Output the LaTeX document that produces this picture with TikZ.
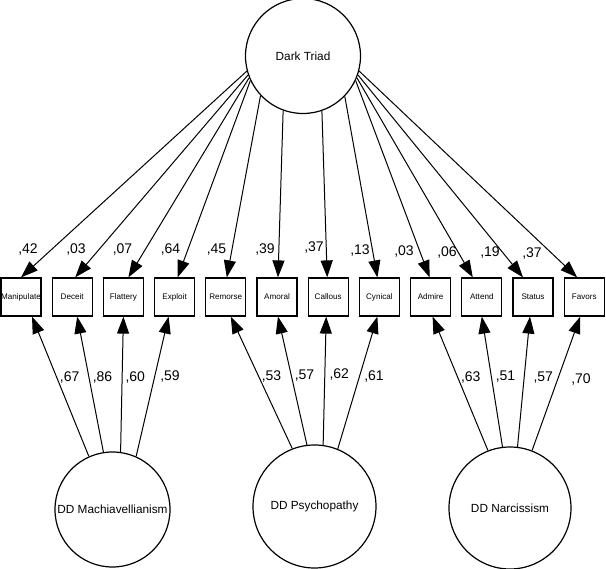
\documentclass[tikz,border=0pt]{standalone}
\usepackage{fontspec}
\setmainfont{Liberation Sans}
\usetikzlibrary{arrows.meta}
\begin{document}
\begin{tikzpicture}[x=1pt,y=-1pt,
  latent/.style={circle, draw, line width=1.2pt, inner sep=0pt, font=\fontsize{11.8}{13}\selectfont},
  obs/.style={rectangle, draw, line width=1.2pt, minimum width=40pt, minimum height=38pt, inner sep=0pt, font=\fontsize{8.1}{9}\selectfont},
  coef/.style={font=\fontsize{14}{16}\selectfont, inner sep=0pt},
  loading/.style={-{Triangle[length=17pt,width=12pt]}, line width=1pt}]
\useasboundingbox (0,0) rectangle (606,569);

\node[latent, minimum size=115pt] (dt) at (303,56) {Dark Triad};

\foreach \t [count=\i from 0] in {Manipulate,Deceit,Flattery,Exploit,Remorse,Amoral,Callous,Cynical,Admire,Attend,Status,Favors}
  \node[obs] (b\i) at ({21+51.2*\i},297) {\t};

\node[latent, minimum size=115pt] (mach) at (112.5,509.5) {DD Machiavellianism};
\node[latent, minimum size=123pt] (psy) at (314.5,506.5) {DD Psychopathy};
\node[latent, minimum size=122pt] (nar) at (510,508) {DD Narcissism};

% Dark Triad loadings
\foreach \a/\o [count=\i from 0] in {195/0,199/3,202/5,205/3,223/1,250.5/1,289/-1,316/-2,335/-1,338/-9,341/-10,345/-7}
  \draw[loading] (dt.\a) -- ([xshift=\o pt]b\i.north);

% factor loadings
\foreach \a/\o/\b in {114/11/0,99/5/1,82/0/2,66/-6/3}
  \draw[loading] (mach.\a) -- ([xshift=\o pt]b\b.south);
\foreach \a/\o/\b in {111/5/4,97.5/1/5,82.5/-2/6,68/-2/7}
  \draw[loading] (psy.\a) -- ([xshift=\o pt]b\b.south);
\foreach \a/\o/\b in {111.5/2/8,97/0/9,83/-3/10,69/-4/11}
  \draw[loading] (nar.\a) -- ([xshift=\o pt]b\b.south);

% top coefficients
\foreach \x/\y/\t [count=\i from 0] in {28/250/{,42},76/250/{,03},122.5/250/{,07},170.5/250/{,64},216.5/250/{,45},265/250/{,39},314/248/{,37},360/251/{,13},404/251.5/{,03},447/253/{,06},490/252.5/{,19},532/254/{,37}}
  \node[coef] (t\i) at (\x,\y) {\t};

% bottom coefficients
\foreach \x/\y/\t [count=\i from 0] in {69.6/378/{,67},102.5/378/{,86},135.3/378/{,60},170/377/{,59},271.5/377/{,53},304.5/376/{,57},339.3/375/{,62},374/377/{,61},470.8/378/{,63},505.5/377/{,51},543.3/378/{,57},581/380/{,70}}
  \node[coef] (u\i) at (\x,\y) {\t};
\end{tikzpicture}
\end{document}
